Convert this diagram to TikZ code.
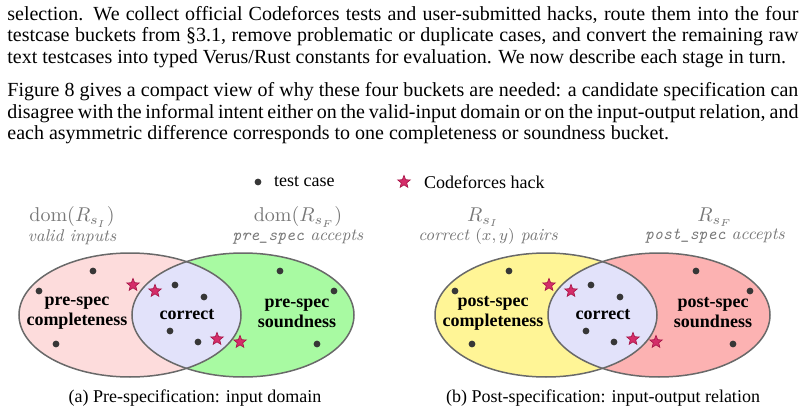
\documentclass[tikz,border=0pt]{standalone}
\usepackage{amsmath}
\usepackage{fontspec}
\usepackage{tikz}
\usetikzlibrary{shapes.geometric}
\newfontfamily\timesfont{Liberation Serif}
\definecolor{cpink}{RGB}{253,220,220}
\definecolor{cgreen}{RGB}{168,250,162}
\definecolor{clens}{RGB}{226,226,250}
\definecolor{cyel}{RGB}{255,245,150}
\definecolor{csalmon}{RGB}{252,178,178}
\definecolor{cedge}{RGB}{105,105,105}
\definecolor{cdot}{RGB}{55,55,55}
\definecolor{chack}{RGB}{212,45,105}
\definecolor{chackd}{RGB}{165,20,70}
\definecolor{clab}{RGB}{120,120,120}
\tikzset{
  bodyline/.style={anchor=base west,inner sep=0pt,font=\timesfont\fontsize{10}{11}\selectfont},
  setedge/.style={draw=cedge,line width=0.75pt},
  tcase/.style={fill=cdot},
  hack/.style={star,star points=5,star point ratio=2.3,minimum size=6.6pt,inner sep=0pt,
    fill=chack,draw=chackd,line width=0.3pt},
  bucket/.style={align=center,font=\timesfont\fontsize{9}{10}\selectfont\bfseries},
  setname/.style={text=clab,font=\fontsize{10}{11}\selectfont},
  setdesc/.style={text=clab,font=\fontsize{8.5}{10}\selectfont\itshape},
  legtext/.style={anchor=west,font=\timesfont\fontsize{9}{10}\selectfont},
  subcap/.style={font=\timesfont\fontsize{9}{10}\selectfont}
}
% positions of the sample points, shared by both panels
\newcommand{\caselist}{93/271,39/291,56/344,175/285,204/297,170/331,198/342,280/271,334/291,317/344}
\newcommand{\hacklist}{133/285,155/291,217/339,240/342}
\begin{document}
\begin{tikzpicture}[x=0.5pt,y=-0.5pt]
  \useasboundingbox (0,0) rectangle (805,413);
  % running text above the figure
  \node[bodyline] (l1) at (7,20) {\makebox[395.5pt][s]{selection. We collect official Codeforces tests and user-submitted hacks, route them into the four}};
  \node[bodyline] (l2) at (7,41.7) {\makebox[395.5pt][s]{testcase buckets from §3.1, remove problematic or duplicate cases, and convert the remaining raw}};
  \node[bodyline] (l3) at (7,63) {text testcases into typed Verus/Rust constants for evaluation. We now describe each stage in turn.};
  \node[bodyline] (m1) at (7,96.7) {\makebox[395.5pt][s]{Figure 8 gives a compact view of why these four buckets are needed: a candidate specification can}};
  \node[bodyline] (m2) at (7,118.3) {\makebox[395.5pt][s]{disagree with the informal intent either on the valid-input domain or on the input-output relation, and}};
  \node[bodyline] (m3) at (7,139.5) {each asymmetric difference corresponds to one completeness or soundness bucket.};
  % legend
  \fill[tcase] (258,182) circle [radius=3.4];
  \node[legtext] (lgc) at (267,182) {test case};
  \node[hack] (lgh) at (404,182) {};
  \node[legtext] (lgt) at (417,182) {Codeforces hack};
  % (a) pre-specification
  \fill[cpink] (130,315) ellipse [x radius=111,y radius=62];
  \fill[cgreen] (243,315) ellipse [x radius=111,y radius=62];
  \begin{scope}
    \clip (130,315) ellipse [x radius=111,y radius=62];
    \fill[clens] (243,315) ellipse [x radius=111,y radius=62];
  \end{scope}
  \draw[setedge] (130,315) ellipse [x radius=111,y radius=62];
  \draw[setedge] (243,315) ellipse [x radius=111,y radius=62];
  \foreach \px/\py in \caselist \fill[tcase] (\px,\py) circle [radius=3.4];
  \foreach \px/\py in \hacklist \node[hack] at (\px,\py) {};
  \node[setname] (an1) at (72,217) {$\operatorname{dom}(R_{s_I})$};
  \node[setdesc] (ad1) at (72,237) {valid inputs};
  \node[setname] (an2) at (298,217) {$\operatorname{dom}(R_{s_F})$};
  \node[setdesc] (ad2) at (298,237) {\texttt{pre\_spec} accepts};
  \node[bucket] (acomp) at (77,313) {pre-spec\\completeness};
  \node[bucket] (acorr) at (187,315) {correct};
  \node[bucket] (asnd) at (297,313) {pre-spec\\soundness};
  \node[subcap] (capa) at (195,398) {(a) Pre-specification: input domain};
  % (b) post-specification
  \begin{scope}[xshift=208pt]
    \fill[cyel] (130,315) ellipse [x radius=111,y radius=62];
    \fill[csalmon] (243,315) ellipse [x radius=111,y radius=62];
    \begin{scope}
      \clip (130,315) ellipse [x radius=111,y radius=62];
      \fill[clens] (243,315) ellipse [x radius=111,y radius=62];
    \end{scope}
    \draw[setedge] (130,315) ellipse [x radius=111,y radius=62];
    \draw[setedge] (243,315) ellipse [x radius=111,y radius=62];
    \foreach \px/\py in \caselist \fill[tcase] (\px,\py) circle [radius=3.4];
    \foreach \px/\py in \hacklist \node[hack] at (\px,\py) {};
    \node[setname] (bn1) at (67,217) {$R_{s_I}$};
    \node[setdesc] (bd1) at (72,236) {correct $(x,y)$ pairs};
    \node[setname] (bn2) at (299,217) {$R_{s_F}$};
    \node[setdesc] (bd2) at (299,236) {\texttt{post\_spec} accepts};
    \node[bucket] (bcomp) at (77,313) {post-spec\\completeness};
    \node[bucket] (bcorr) at (187,315) {correct};
    \node[bucket] (bsnd) at (297,313) {post-spec\\soundness};
    \node[subcap] (capb) at (187,398) {(b) Post-specification: input-output relation};
  \end{scope}
\end{tikzpicture}
\end{document}
